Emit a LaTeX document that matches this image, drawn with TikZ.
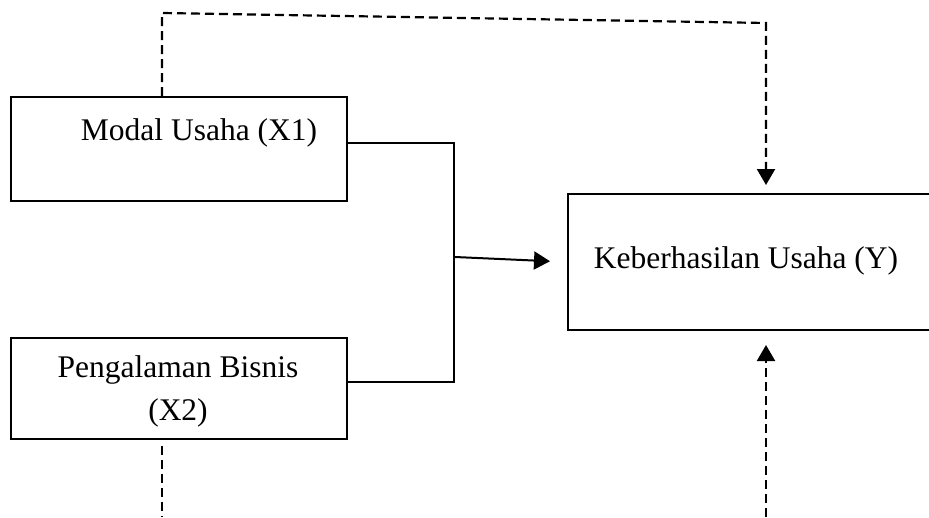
\documentclass[tikz,border=0pt]{standalone}
\usepackage{fontspec}
\setmainfont{Liberation Serif}
\usetikzlibrary{arrows.meta}
\begin{document}
\begin{tikzpicture}[x=1pt,y=-1pt,
  box/.style={draw, line width=2pt, inner sep=0pt, anchor=north west},
  lbl/.style={font=\fontsize{31.5}{43}\selectfont, inner sep=0pt, anchor=base},
  ln/.style={line width=2pt},
  dsh/.style={line width=2.2pt, dash pattern=on 9pt off 5pt},
  tip/.style={-{Triangle[width=18pt,length=16pt]}}]
\useasboundingbox (0,0) rectangle (929,517);
\clip (0,0) rectangle (929,517);

% boxes
\node[box, minimum width=336pt, minimum height=104pt] (x1) at (10,96) {};
\node[box, minimum width=336pt, minimum height=101pt] (x2) at (10,337) {};
\node[box, minimum width=390pt, minimum height=136pt] (y) at (567,193) {};

% labels
\node[lbl] (x1t) at (199,140) {Modal Usaha (X1)};
\node[lbl] (x2ta) at (178,377) {Pengalaman Bisnis};
\node[lbl] (x2tb) at (178,420) {(X2)};
\node[lbl] (yt) at (746,268) {Keberhasilan Usaha (Y)};

% joints
\coordinate (j1) at (454,143);
\coordinate (j2) at (454,382);
\coordinate (jm) at (455,257);
\coordinate (tl) at (162,13);
\coordinate (tr) at (766,23);
\coordinate (bl) at (162,517);
\coordinate (br) at (766,517);

% solid bracket joining X1 and X2, then arrow to Y
\draw[ln] (x1.east |- j1) -- (j1) -- (j2) -- (x2.east |- j2);
\draw[ln, tip, shorten >=17pt] (jm) -- (y.west);

% dashed links
\draw[dsh, tip, shorten >=8pt] (x1.north -| tl) -- (tl) -- (tr) -- (y.north -| tr);
\draw[dsh, shorten <=6pt] (x2.south -| bl) -- (bl);
\draw[dsh, tip, shorten >=14pt] (br) -- (y.south -| br);
\end{tikzpicture}
\end{document}
